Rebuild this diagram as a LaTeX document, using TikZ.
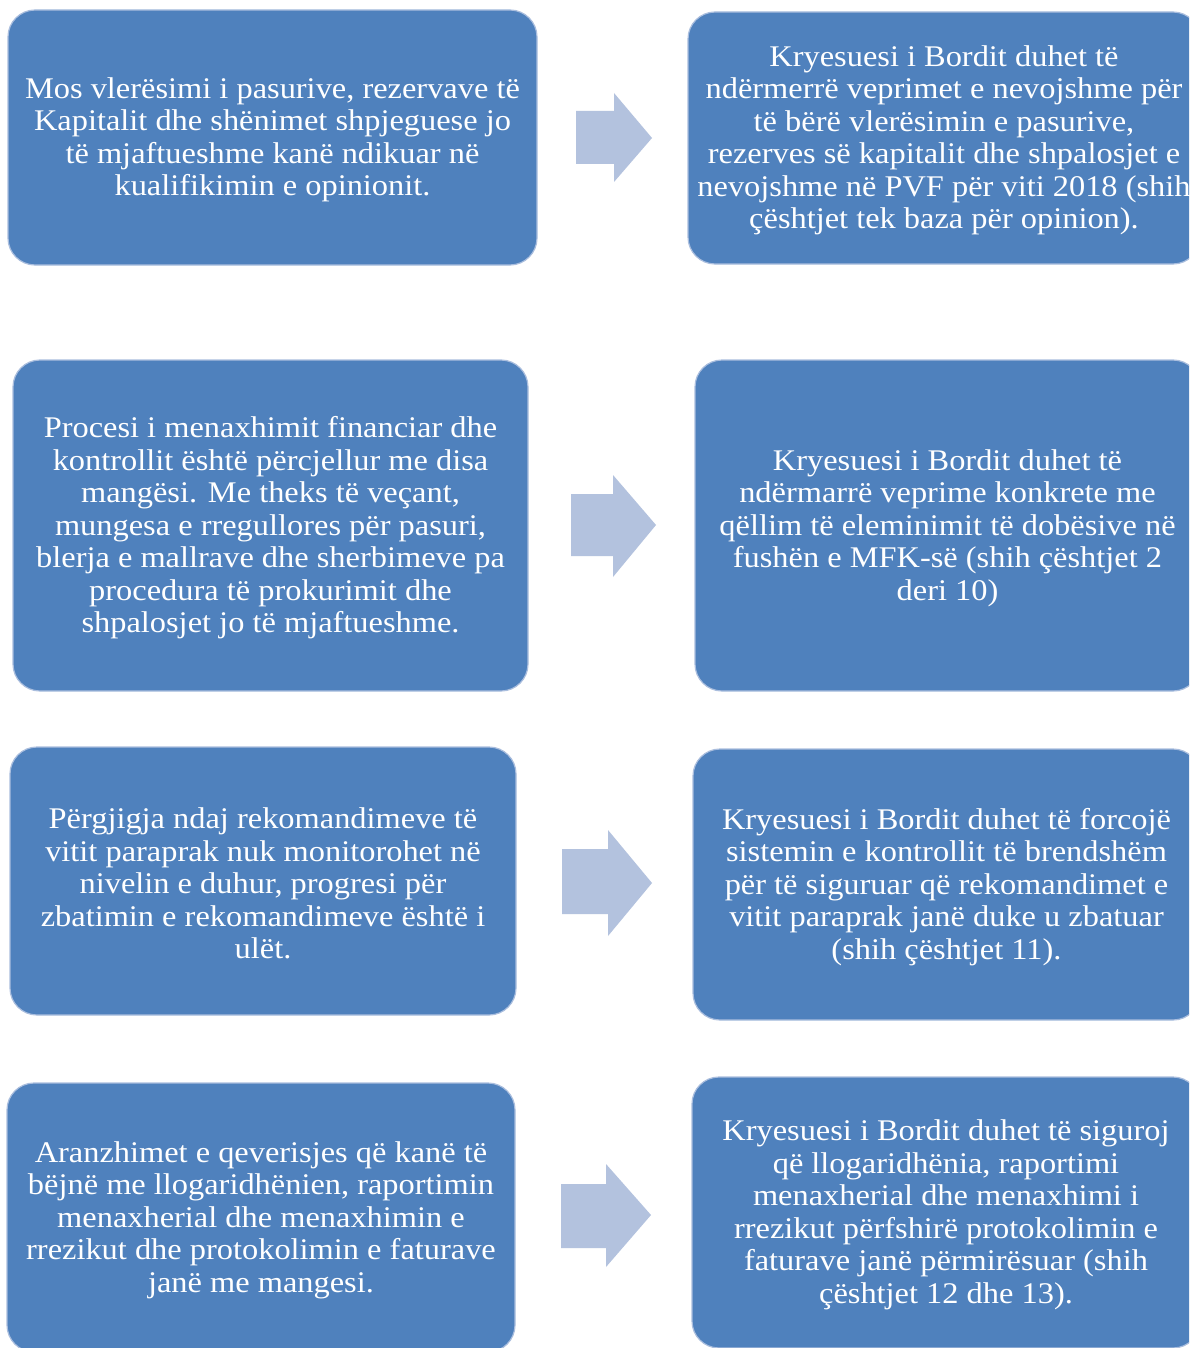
\documentclass[tikz,border=0pt]{standalone}
\usepackage{fontspec}
\newfontfamily\boxfont{Liberation Serif}[FakeStretch=1.08]
\definecolor{boxblue}{RGB}{79,129,189}
\definecolor{boxedge}{RGB}{170,190,222}
\definecolor{arrowfill}{RGB}{179,194,222}
\begin{document}
\begin{tikzpicture}[x=0.5pt,y=-0.5pt,
  box/.style={rectangle, rounded corners=13.5pt, fill=boxblue, draw=boxedge, line width=0.6pt, inner sep=0pt},
  boxtext/.style={text=white, align=center, inner sep=0pt, font={\boxfont\fontsize{15pt}{16.25pt}\selectfont}},
  blockarrow/.style={fill=arrowfill, draw=none}]
\useasboundingbox (0,0) rectangle (1189,1348);
\clip (0,0) rectangle (1189,1348);
\fill[white] (0,0) rectangle (1189,1348);

% row 1
\node[box, minimum width=264.5pt, minimum height=127.5pt] (l1) at (272.5,137.5) {};
\node[boxtext] (l1t) at ([yshift=-1.25pt]l1.center)
 {Mos vlerësimi i pasurive, rezervave të\\Kapitalit dhe shënimet shpjeguese jo\\të mjaftueshme kanë ndikuar në\\kualifikimin e opinionit.};
\node[box, minimum width=256pt, minimum height=126pt] (r1) at (944,138) {};
\node[boxtext] (r1t) at ([yshift=-1.25pt]r1.center)
 {Kryesuesi i Bordit duhet të\\ndërmerrë veprimet e nevojshme për\\të bërë vlerësimin e pasurive,\\rezerves së kapitalit dhe shpalosjet e\\nevojshme në PVF për viti 2018 (shih\\çështjet tek baza për opinion).};
\fill[blockarrow] (576,111) -- (614,111) -- (614,93) -- (652,138) -- (614,182) -- (614,164) -- (576,164) -- cycle;

% row 2
\node[box, minimum width=257.5pt, minimum height=165.5pt] (l2) at (270.5,525.5) {};
\node[boxtext] (l2t) at ([yshift=-1.25pt]l2.center)
 {Procesi i menaxhimit financiar dhe\\kontrollit është përcjellur me disa\\mangësi. Me theks të veçant,\\mungesa e rregullores për pasuri,\\blerja e mallrave dhe sherbimeve pa\\procedura të prokurimit dhe\\shpalosjet jo të mjaftueshme.};
\node[box, minimum width=252.5pt, minimum height=165.5pt] (r2) at (947.5,525.5) {};
\node[boxtext] (r2t) at ([yshift=-1.25pt]r2.center)
 {Kryesuesi i Bordit duhet të\\ndërmarrë veprime konkrete me\\qëllim të eleminimit të dobësive në\\fushën e MFK-së (shih çështjet 2\\deri 10)};
\fill[blockarrow] (571,494) -- (613,494) -- (613,475) -- (656,525) -- (613,577) -- (613,556) -- (571,556) -- cycle;

% row 3
\node[box, minimum width=253pt, minimum height=134pt] (l3) at (263,881) {};
\node[boxtext] (l3t) at ([yshift=-1.25pt]l3.center)
 {Përgjigja ndaj rekomandimeve të\\vitit paraprak nuk monitorohet në\\nivelin e duhur, progresi për\\zbatimin e rekomandimeve është i\\ulët.};
\node[box, minimum width=253.5pt, minimum height=135.5pt] (r3) at (946.5,884.5) {};
\node[boxtext] (r3t) at ([yshift=-1.25pt]r3.center)
 {Kryesuesi i Bordit duhet të forcojë\\sistemin e kontrollit të brendshëm\\për të siguruar që rekomandimet e\\vitit paraprak janë duke u zbatuar\\(shih çështjet 11).};
\fill[blockarrow] (562,849) -- (608,849) -- (608,830) -- (652,883) -- (608,936) -- (608,914) -- (562,914) -- cycle;

% row 4
\node[box, minimum width=254pt, minimum height=134.5pt] (l4) at (261,1217.5) {};
\node[boxtext] (l4t) at ([yshift=-1.25pt]l4.center)
 {Aranzhimet e qeverisjes që kanë të\\bëjnë me llogaridhënien, raportimin\\menaxherial dhe menaxhimin e\\rrezikut dhe protokolimin e faturave\\janë me mangesi.};
\node[box, minimum width=254pt, minimum height=135.5pt] (r4) at (946,1212.5) {};
\node[boxtext] (r4t) at ([yshift=-1.25pt]r4.center)
 {Kryesuesi i Bordit duhet të siguroj\\që llogaridhënia, raportimi\\menaxherial dhe menaxhimi i\\rrezikut përfshirë protokolimin e\\faturave janë përmirësuar (shih\\çështjet 12 dhe 13).};
\fill[blockarrow] (561,1184) -- (606,1184) -- (606,1164) -- (651,1215) -- (606,1267) -- (606,1248) -- (561,1248) -- cycle;
\end{tikzpicture}
\end{document}
